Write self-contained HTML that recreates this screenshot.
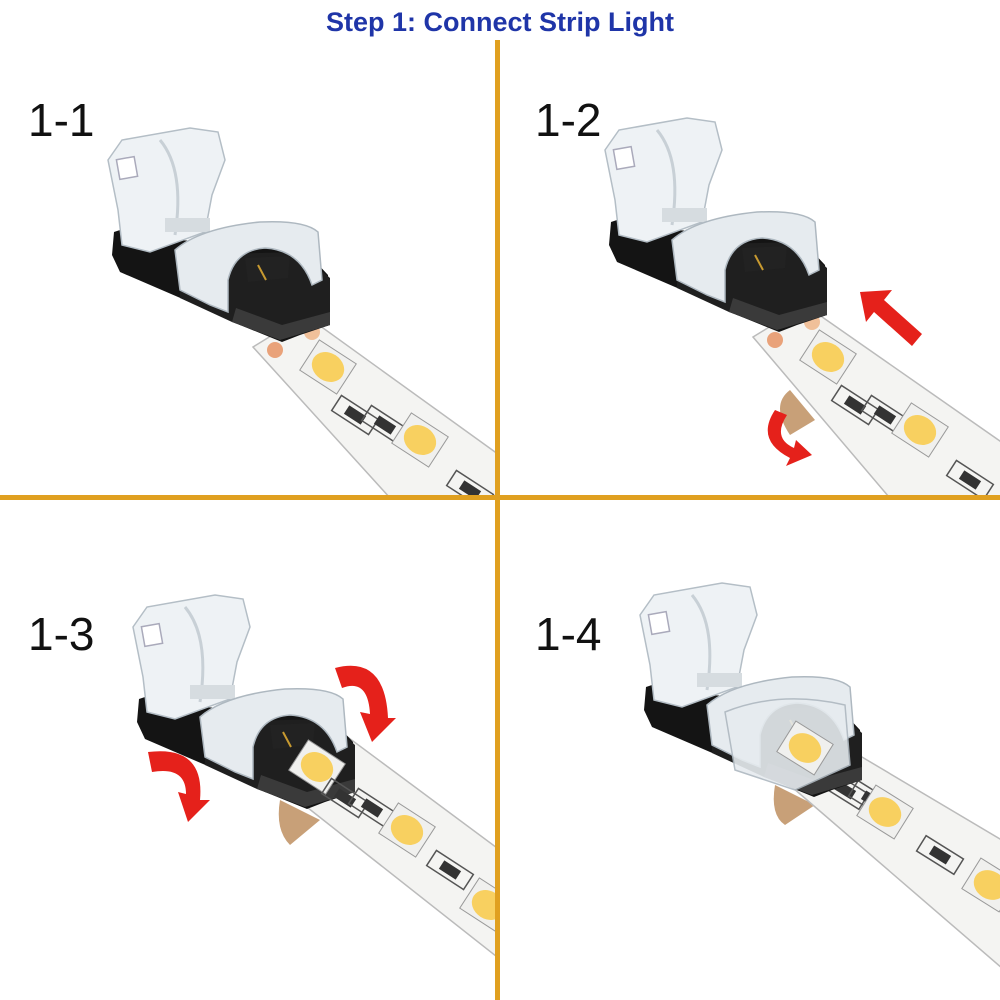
<!DOCTYPE html>
<html><head><meta charset="utf-8"><style>
html,body{margin:0;padding:0;background:#fff;}
svg{display:block;}
</style></head><body>
<svg width="1000" height="1000" viewBox="0 0 1000 1000" xmlns="http://www.w3.org/2000/svg">
<defs>
<g id="conn">
  <polygon points="114,232 138,224 175,240 300,245 328,275 330,325 300,335 282,342 240,325 185,300 120,272 112,255" fill="#141414"/>
  <polygon points="180,255 300,252 330,278 330,325 280,340 232,322 180,298" fill="#1f1f1f"/>
  <polygon points="232,322 280,340 330,325 330,312 282,325 236,308" fill="#3a3a3a"/>
  <polygon points="108,160 122,140 190,128 218,132 225,160 212,195 205,232 150,252 122,245 118,210" fill="#eef2f5" stroke="#b4bec6" stroke-width="1.5"/>
  <rect x="118" y="158" width="18" height="20" fill="#fff" stroke="#aab" stroke-width="1.5" transform="rotate(-10 127 168)"/>
  <path d="M160,140 Q185,170 175,235" stroke="#c8d0d6" stroke-width="3" fill="none"/>
  <rect x="165" y="218" width="45" height="14" fill="#d6dce0"/>
  <path d="M175,250 Q200,228 260,222 Q305,220 318,232 L322,280 L312,285 Q300,250 265,248 Q235,250 228,280 L228,312 L210,305 L180,290 Z" fill="#e6ebef" stroke="#aeb8c0" stroke-width="1.5"/>
  <path d="M245,258 L290,256 L288,278 L248,282 Z" fill="#222"/>
  <path d="M258,265 L266,280" stroke="#c89a30" stroke-width="2"/>
</g>
<g id="led">
  <rect x="-22" y="-18" width="44" height="36" fill="#f0f0ee" stroke="#999" stroke-width="1"/>
  <ellipse cx="0" cy="0" rx="17" ry="14" fill="#f8d060"/>
</g>
<g id="res">
  <rect x="-22" y="-9" width="44" height="18" fill="none" stroke="#555" stroke-width="1.5"/>
  <rect x="-10" y="-5" width="20" height="10" fill="#333"/>
</g>
</defs>

<rect x="495" y="40" width="5" height="960" fill="#e0a020"/>
<rect x="0" y="495" width="1000" height="5" fill="#e0a020"/>

<text x="500" y="31" text-anchor="middle" font-family="Liberation Sans, sans-serif" font-weight="bold" font-size="27" fill="#1f35a8">Step 1: Connect Strip Light</text>

<g font-family="Liberation Sans, sans-serif" font-size="46" fill="#111">
<text x="28" y="136">1-1</text>
<text x="535" y="136">1-2</text>
<text x="28" y="650">1-3</text>
<text x="535" y="650">1-4</text>
</g>

<!-- Panel 1-1 -->
<clipPath id="c1"><rect x="0" y="40" width="495" height="455"/></clipPath>
<g clip-path="url(#c1)">
  <polygon points="253,347 305,315 520,470 520,520 410,520" fill="#f4f4f2" stroke="#bbb" stroke-width="1.5"/>
  <circle cx="275" cy="350" r="8" fill="#e9a27a"/>
  <circle cx="312" cy="332" r="8" fill="#f0c09a"/>
  <use href="#led" transform="translate(328,367) rotate(33)"/>
  <use href="#res" transform="translate(355,415) rotate(33)"/>
  <use href="#res" transform="translate(385,425) rotate(33)"/>
  <use href="#led" transform="translate(420,440) rotate(33)"/>
  <use href="#res" transform="translate(470,490) rotate(33)"/>
  <use href="#conn"/>
</g>

<!-- Panel 1-2 -->
<clipPath id="c2"><rect x="500" y="40" width="500" height="455"/></clipPath>
<g clip-path="url(#c2)">
  <path d="M790,390 Q770,405 790,435 L815,420 Z" fill="#c8a078"/>
  <polygon points="753,337 805,305 1020,455 1020,510 900,510" fill="#f4f4f2" stroke="#bbb" stroke-width="1.5"/>
  <circle cx="775" cy="340" r="8" fill="#e9a27a"/>
  <circle cx="812" cy="322" r="8" fill="#f0c09a"/>
  <use href="#led" transform="translate(828,357) rotate(33)"/>
  <use href="#res" transform="translate(855,405) rotate(33)"/>
  <use href="#res" transform="translate(885,415) rotate(33)"/>
  <use href="#led" transform="translate(920,430) rotate(33)"/>
  <use href="#res" transform="translate(970,480) rotate(33)"/>
  <use href="#conn" transform="translate(497,-10)"/>
  <polygon points="860,292 892,290 884,300 922,334 912,346 874,312 866,322" fill="#e5211b"/>
  <path d="M775,410 Q755,440 790,458 L786,466 L812,455 L796,440 L794,448 Q772,438 787,415 Z" fill="#e5211b"/>
</g>

<!-- Panel 1-3 -->
<clipPath id="c3"><rect x="0" y="500" width="495" height="500"/></clipPath>
<g clip-path="url(#c3)">
  <path d="M280,800 Q275,830 290,845 L320,820 Z" fill="#c8a078"/>
  <polygon points="270,778 318,715 520,865 520,975" fill="#f4f4f2" stroke="#bbb" stroke-width="1.5"/>
  <use href="#conn" transform="translate(25,467)"/>
  <use href="#led" transform="translate(317,767) rotate(33)"/>
  <use href="#res" transform="translate(345,798) rotate(33)"/>
  <use href="#res" transform="translate(372,808) rotate(33)"/>
  <use href="#led" transform="translate(407,830) rotate(33)"/>
  <use href="#res" transform="translate(450,870) rotate(33)"/>
  <use href="#led" transform="translate(488,905) rotate(33)"/>
  <path d="M335,668 Q385,655 388,718 L396,718 L372,742 L360,712 L370,714 Q368,678 342,688 Z" fill="#e5211b"/>
  <path d="M148,752 Q205,745 200,800 L210,800 L188,822 L178,792 L186,794 Q186,766 152,772 Z" fill="#e5211b"/>
</g>

<!-- Panel 1-4 -->
<clipPath id="c4"><rect x="500" y="500" width="500" height="500"/></clipPath>
<g clip-path="url(#c4)">
  <path d="M775,785 Q770,815 785,825 L815,805 Z" fill="#c8a078"/>
  <polygon points="778,775 830,738 1010,845 1010,975" fill="#f4f4f2" stroke="#bbb" stroke-width="1.5"/>
  <use href="#res" transform="translate(845,790) rotate(32)"/>
  <use href="#res" transform="translate(872,800) rotate(32)"/>
  <use href="#led" transform="translate(885,812) rotate(32)"/>
  <use href="#res" transform="translate(940,855) rotate(32)"/>
  <use href="#led" transform="translate(990,885) rotate(32)"/>
  <use href="#conn" transform="translate(532,455)"/>
  <path d="M725,712 Q780,690 845,705 L850,765 L795,790 L735,770 Z" fill="#e6ebef" stroke="#aeb8c0" stroke-width="1.5" opacity="0.9"/>
  <use href="#led" transform="translate(805,748) rotate(32)"/>
</g>
</svg>
</body></html>
